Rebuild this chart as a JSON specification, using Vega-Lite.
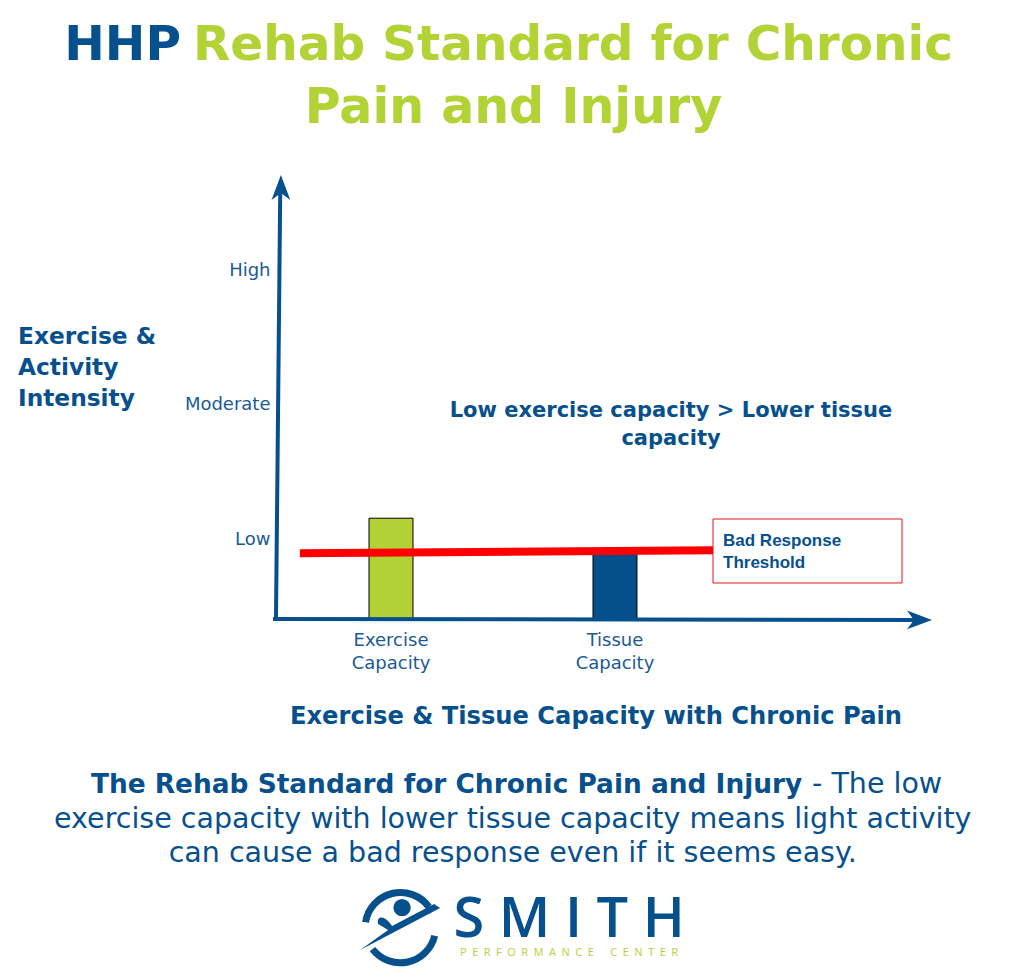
{
  "$schema": "https://vega.github.io/schema/vega-lite/v6.json",
  "autosize": "none",
  "padding": {"left": 275, "top": 175, "right": 94, "bottom": 360},
  "width": 655,
  "height": 444,
  "background": "white",
  "config": {"view": {"stroke": null}},
  "resolve": {"scale": {"x": "independent"}},
  "layer": [
    {
      "data": {"values": [
        {"measure": "Exercise Capacity", "intensity": 22.7},
        {"measure": "Tissue Capacity", "intensity": 15.3}
      ]},
      "mark": {"type": "bar", "stroke": "black", "strokeWidth": 1},
      "encoding": {
        "x": {
          "field": "measure", "type": "nominal",
          "scale": {"paddingInner": 0.8036, "paddingOuter": 0.864, "align": 0.2429},
          "axis": {
            "title": null, "domain": false, "ticks": false, "labelAngle": 0, "orient": "bottom",
            "labelExpr": "split(datum.label, ' ')",
            "labelFont": "DejaVu Sans", "labelFontSize": 18, "labelColor": "#1a5a96",
            "labelLineHeight": 23, "labelPadding": 12
          }
        },
        "y": {
          "field": "intensity", "type": "quantitative",
          "scale": {"domain": [0, 100], "nice": false, "zero": false},
          "axis": {
            "title": null, "domain": false, "ticks": false, "grid": false,
            "values": [18, 48.2, 78.4],
            "labelExpr": "datum.value < 30 ? 'Low' : datum.value < 60 ? 'Moderate' : 'High'",
            "labelFont": "DejaVu Sans", "labelFontSize": 18, "labelColor": "#1a5a96", "labelPadding": 5
          }
        },
        "color": {
          "field": "measure", "type": "nominal",
          "scale": {"domain": ["Exercise Capacity", "Tissue Capacity"], "range": ["#b1d136", "#044f8c"]},
          "legend": null
        }
      }
    },
    {
      "data": {"values": [{"part": "y-axis"}]},
      "mark": {"type": "rule", "color": "#07508e", "strokeWidth": 4},
      "encoding": {
        "x": {"datum": 0.15, "type": "quantitative", "scale": {"domain": [0, 100], "nice": false, "zero": false}, "axis": null},
        "y": {"datum": 0, "type": "quantitative"},
        "x2": {"datum": 0.8},
        "y2": {"datum": 96.5}
      }
    },
    {
      "data": {"values": [{"part": "x-axis"}]},
      "mark": {"type": "rule", "color": "#07508e", "strokeWidth": 4},
      "encoding": {
        "x": {"datum": -0.3, "type": "quantitative", "scale": {"domain": [0, 100], "nice": false, "zero": false}, "axis": null},
        "y": {"datum": 0, "type": "quantitative"},
        "x2": {"datum": 98.5},
        "y2": {"datum": -0.2}
      }
    },
    {
      "data": {"values": [{"arrow": "up"}]},
      "mark": {"type": "point", "shape": "M0,-1 L0.75,1 L0,0.45 L-0.75,1 Z", "filled": true, "color": "#07508e", "opacity": 1, "size": 625},
      "encoding": {
        "x": {"datum": 0.9, "type": "quantitative", "scale": {"domain": [0, 100], "nice": false, "zero": false}, "axis": null},
        "y": {"datum": 97.2, "type": "quantitative"}
      }
    },
    {
      "data": {"values": [{"arrow": "right"}]},
      "mark": {"type": "point", "shape": "M0,-1 L0.75,1 L0,0.45 L-0.75,1 Z", "filled": true, "color": "#07508e", "opacity": 1, "size": 625, "angle": 90},
      "encoding": {
        "x": {"datum": 98.4, "type": "quantitative", "scale": {"domain": [0, 100], "nice": false, "zero": false}, "axis": null},
        "y": {"datum": -0.2, "type": "quantitative"}
      }
    },
    {
      "data": {"values": [{"name": "Bad Response Threshold"}]},
      "mark": {"type": "rule", "color": "#ff0000", "strokeWidth": 8, "strokeCap": "butt"},
      "encoding": {
        "x": {"datum": 3.8, "type": "quantitative", "scale": {"domain": [0, 100], "nice": false, "zero": false}, "axis": null},
        "y": {"datum": 14.8, "type": "quantitative"},
        "x2": {"datum": 66.9},
        "y2": {"datum": 15.5}
      }
    },
    {
      "data": {"values": [{"name": "box"}]},
      "mark": {"type": "rect", "fill": "white", "stroke": "#e8141b", "strokeWidth": 1},
      "encoding": {
        "x": {"datum": 66.87, "type": "quantitative", "scale": {"domain": [0, 100], "nice": false, "zero": false}, "axis": null},
        "y": {"datum": 22.52, "type": "quantitative"},
        "x2": {"datum": 95.73},
        "y2": {"datum": 8.11}
      }
    },
    {
      "data": {"values": [{"label": "Bad Response\nThreshold"}]},
      "mark": {"type": "text", "align": "left", "baseline": "alphabetic", "font": "Liberation Sans", "fontWeight": "bold", "fontSize": 17, "color": "#07508e", "lineBreak": "\n", "lineHeight": 22},
      "encoding": {
        "x": {"datum": 68.4, "type": "quantitative", "scale": {"domain": [0, 100], "nice": false, "zero": false}, "axis": null},
        "y": {"datum": 16.4, "type": "quantitative"},
        "text": {"field": "label"}
      }
    },
    {
      "data": {"values": [{"label": "HHP"}]},
      "mark": {"type": "text", "align": "right", "baseline": "alphabetic", "font": "DejaVu Sans", "fontWeight": "bold", "fontSize": 48.5, "color": "#07508e"},
      "encoding": {
        "x": {"datum": -14.35, "type": "quantitative", "scale": {"domain": [0, 100], "nice": false, "zero": false}, "axis": null},
        "y": {"datum": 125.9, "type": "quantitative"},
        "text": {"field": "label"}
      }
    },
    {
      "data": {"values": [{"label": "Rehab Standard for Chronic"}]},
      "mark": {"type": "text", "align": "left", "baseline": "alphabetic", "font": "DejaVu Sans", "fontWeight": "bold", "fontSize": 48.5, "color": "#b3d236"},
      "encoding": {
        "x": {"datum": -12.52, "type": "quantitative", "scale": {"domain": [0, 100], "nice": false, "zero": false}, "axis": null},
        "y": {"datum": 125.9, "type": "quantitative"},
        "text": {"field": "label"}
      }
    },
    {
      "data": {"values": [{"label": "Pain and Injury"}]},
      "mark": {"type": "text", "align": "center", "baseline": "alphabetic", "font": "DejaVu Sans", "fontWeight": "bold", "fontSize": 49, "color": "#b3d236"},
      "encoding": {
        "x": {"datum": 36.4, "type": "quantitative", "scale": {"domain": [0, 100], "nice": false, "zero": false}, "axis": null},
        "y": {"datum": 111.7, "type": "quantitative"},
        "text": {"field": "label"}
      }
    },
    {
      "data": {"values": [{"label": "Exercise &\nActivity\nIntensity"}]},
      "mark": {"type": "text", "align": "left", "baseline": "alphabetic", "font": "DejaVu Sans", "fontWeight": "bold", "fontSize": 23.3, "color": "#07508e", "lineBreak": "\n", "lineHeight": 31},
      "encoding": {
        "x": {"datum": -39.24, "type": "quantitative", "scale": {"domain": [0, 100], "nice": false, "zero": false}, "axis": null},
        "y": {"datum": 61.9, "type": "quantitative"},
        "text": {"field": "label"}
      }
    },
    {
      "data": {"values": [{"label": "Low exercise capacity > Lower tissue\ncapacity"}]},
      "mark": {"type": "text", "align": "center", "baseline": "alphabetic", "font": "DejaVu Sans", "fontWeight": "bold", "fontSize": 21, "color": "#07508e", "lineBreak": "\n", "lineHeight": 28},
      "encoding": {
        "x": {"datum": 60.46, "type": "quantitative", "scale": {"domain": [0, 100], "nice": false, "zero": false}, "axis": null},
        "y": {"datum": 45.5, "type": "quantitative"},
        "text": {"field": "label"}
      }
    },
    {
      "data": {"values": [{"label": "Exercise & Tissue Capacity with Chronic Pain"}]},
      "mark": {"type": "text", "align": "center", "baseline": "alphabetic", "font": "DejaVu Sans", "fontWeight": "bold", "fontSize": 24.2, "color": "#07508e"},
      "encoding": {
        "x": {"datum": 49.0, "type": "quantitative", "scale": {"domain": [0, 100], "nice": false, "zero": false}, "axis": null},
        "y": {"datum": -23.65, "type": "quantitative"},
        "text": {"field": "label"}
      }
    },
    {
      "data": {"values": [{"label": "The Rehab Standard for Chronic Pain and Injury"}]},
      "mark": {"type": "text", "align": "right", "baseline": "alphabetic", "font": "DejaVu Sans", "fontWeight": "bold", "fontSize": 26.4, "color": "#07508e"},
      "encoding": {
        "x": {"datum": 80.5, "type": "quantitative", "scale": {"domain": [0, 100], "nice": false, "zero": false}, "axis": null},
        "y": {"datum": -39.2, "type": "quantitative"},
        "text": {"field": "label"}
      }
    },
    {
      "data": {"values": [{"label": "- The low"}]},
      "mark": {"type": "text", "align": "left", "baseline": "alphabetic", "font": "DejaVu Sans", "fontWeight": "normal", "fontSize": 28.5, "color": "#07508e"},
      "encoding": {
        "x": {"datum": 82.0, "type": "quantitative", "scale": {"domain": [0, 100], "nice": false, "zero": false}, "axis": null},
        "y": {"datum": -39.2, "type": "quantitative"},
        "text": {"field": "label"}
      }
    },
    {
      "data": {"values": [{"label": "exercise capacity with lower tissue capacity means light activity\ncan cause a bad response even if it seems easy."}]},
      "mark": {"type": "text", "align": "center", "baseline": "alphabetic", "font": "DejaVu Sans", "fontWeight": "normal", "fontSize": 28.5, "color": "#07508e", "lineBreak": "\n", "lineHeight": 34},
      "encoding": {
        "x": {"datum": 36.3, "type": "quantitative", "scale": {"domain": [0, 100], "nice": false, "zero": false}, "axis": null},
        "y": {"datum": -47.1, "type": "quantitative"},
        "text": {"field": "label"}
      }
    },
    {
      "data": {"values": [{"part": "logo ring"}]},
      "mark": {"type": "point", "shape": "M-0.9,-0.15 A0.92,0.92 0 0 1 0.75,-0.55 M-0.72,0.55 A0.92,0.92 0 0 0 0.9,0.2", "filled": false, "color": "#07508e", "opacity": 1, "strokeWidth": 7, "size": 5900},
      "encoding": {
        "x": {"datum": 19.1, "type": "quantitative", "scale": {"domain": [0, 100], "nice": false, "zero": false}, "axis": null},
        "y": {"datum": -69.6, "type": "quantitative"}
      }
    },
    {
      "data": {"values": [{"part": "logo swoosh"}]},
      "mark": {"type": "point", "shape": "M-1,0.55 L1,-0.5 L0.85,-0.6 L-0.2,-0.05 C-0.35,-0.3 -0.6,-0.35 -0.55,-0.1 L-0.3,0.05 Z", "filled": true, "color": "#07508e", "opacity": 1, "size": 6400},
      "encoding": {
        "x": {"datum": 19.1, "type": "quantitative", "scale": {"domain": [0, 100], "nice": false, "zero": false}, "axis": null},
        "y": {"datum": -69.6, "type": "quantitative"}
      }
    },
    {
      "data": {"values": [{"part": "logo head"}]},
      "mark": {"type": "circle", "color": "#07508e", "opacity": 1, "size": 300},
      "encoding": {
        "x": {"datum": 19.4, "type": "quantitative", "scale": {"domain": [0, 100], "nice": false, "zero": false}, "axis": null},
        "y": {"datum": -65.0, "type": "quantitative"}
      }
    },
    {
      "data": {"values": [{"label": "S M I T H"}]},
      "mark": {"type": "text", "align": "center", "baseline": "alphabetic", "font": "Open Sans", "fontWeight": 600, "fontSize": 56, "color": "#07508e"},
      "encoding": {
        "x": {"datum": 44.9, "type": "quantitative", "scale": {"domain": [0, 100], "nice": false, "zero": false}, "axis": null},
        "y": {"datum": -71.6, "type": "quantitative"},
        "text": {"field": "label"}
      }
    },
    {
      "data": {"values": [{"label": "P\u2002E\u2002R\u2002F\u2002O\u2002R\u2002M\u2002A\u2002N\u2002C\u2002E\u2002\u2002\u2002C\u2002E\u2002N\u2002T\u2002E\u2002R"}]},
      "mark": {"type": "text", "align": "center", "baseline": "alphabetic", "font": "Open Sans", "fontSize": 11, "color": "#b3d236"},
      "encoding": {
        "x": {"datum": 44.9, "type": "quantitative", "scale": {"domain": [0, 100], "nice": false, "zero": false}, "axis": null},
        "y": {"datum": -75.9, "type": "quantitative"},
        "text": {"field": "label"}
      }
    }
  ]
}
